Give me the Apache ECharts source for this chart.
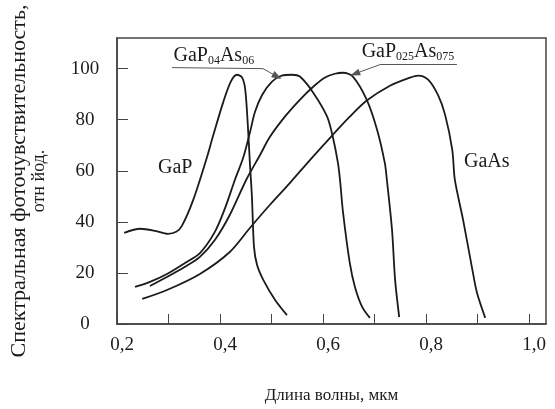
<!DOCTYPE html>
<html>
<head>
<meta charset="utf-8">
<script src="https://cdn.jsdelivr.net/npm/echarts@6/dist/echarts.min.js"></script>
<style>
  html, body { margin: 0; padding: 0; background: #fff; }
  #chart { width: 555px; height: 409px; }
</style>
</head>
<body>
<div id="chart"></div>
<script>
// [длина волны, мкм ; фоточувствительность, отн. ед.]
const gaP = [
  [0.214, 35.7], [0.245, 37.3], [0.274, 36.5], [0.299, 35.3], [0.315, 36.1],
  [0.326, 38.4], [0.348, 48.6], [0.375, 65.5], [0.386, 73.3], [0.406, 86.7],
  [0.421, 94.9], [0.433, 97.6], [0.443, 96.5], [0.449, 91.8], [0.454, 78],
  [0.458, 63.1], [0.462, 49.8], [0.466, 30.2], [0.472, 23.1], [0.484, 17.3],
  [0.507, 9.4], [0.530, 3.5]
];
const gaP04As06 = [
  [0.235, 14.5], [0.264, 16.5], [0.297, 19.6], [0.332, 23.9], [0.361, 27.8],
  [0.390, 36.1], [0.410, 45.5], [0.429, 56.5], [0.445, 65.1], [0.458, 74.9],
  [0.468, 83.1], [0.482, 89.8], [0.501, 94.9], [0.520, 97.3], [0.540, 97.6],
  [0.555, 96.9], [0.581, 90.6], [0.608, 81.2], [0.619, 73.3], [0.629, 63.1],
  [0.633, 56.5], [0.639, 43.5], [0.652, 23.9], [0.662, 14.5], [0.676, 6.7],
  [0.691, 2.4]
];
const gaP025As075 = [
  [0.264, 14.9], [0.297, 18.4], [0.332, 22.4], [0.361, 26.3], [0.390, 32.9],
  [0.419, 42.7], [0.451, 56.5], [0.478, 66.3], [0.497, 73.3], [0.526, 81.2],
  [0.555, 87.8], [0.581, 92.9], [0.604, 96.5], [0.623, 98.0], [0.639, 98.4],
  [0.658, 96.9], [0.685, 87.8], [0.705, 76.1], [0.720, 63.1], [0.724, 56.5],
  [0.734, 36.9], [0.740, 17.3], [0.748, 2.7]
];
const gaAs = [
  [0.249, 9.8], [0.297, 13.3], [0.361, 19.6], [0.419, 28.2], [0.458, 37.6],
  [0.497, 46.7], [0.536, 55.3], [0.575, 64.3], [0.619, 74.1], [0.652, 81.2],
  [0.685, 87.5], [0.730, 93.3], [0.769, 96.5], [0.785, 97.3], [0.804, 95.7],
  [0.823, 89.8], [0.837, 82], [0.851, 68.2], [0.856, 56.5], [0.872, 40.8],
  [0.889, 22.4], [0.899, 12.2], [0.915, 2.4]
];

// подписи кривых и выноски (в координатах осей)
const curveLabels = [
  { text: '{m|GaP}', coord: [0.313, 61.2] },
  { text: '{m|GaAs}', coord: [0.918, 63.5] },
  { text: '{m|GaP}{s|04}{m|As}{s|06}', coord: [0.388, 105.1] },
  { text: '{m|GaP}{s|025}{m|As}{s|075}', coord: [0.765, 106.7] }
];
const leaderLines = [
  [[0.307, 100.4], [0.4835, 100.0]],
  [[0.711, 101.6], [0.860, 101.6]]
];
const leaderArrows = [
  [[0.4835, 100.0], [0.511, 96.9]],
  [[0.711, 101.6], [0.662, 98.0]]
];

const ink = '#1b1b1b';
const serif = 'Liberation Serif';

const myChart = echarts.init(document.getElementById('chart'));

function curve(name, data) {
  return {
    name: name,
    type: 'line',
    data: data,
    smooth: 0.3,
    symbol: 'none',
    lineStyle: { color: ink, width: 1.8 },
    z: 3
  };
}

const series = [
  curve('GaP', gaP),
  curve('GaP0.4As0.6', gaP04As06),
  curve('GaP0.25As0.75', gaP025As075),
  curve('GaAs', gaAs)
];

series[3].markPoint = {
  symbol: 'circle',
  symbolSize: 1,
  silent: true,
  itemStyle: { color: 'rgba(0,0,0,0)' },
  label: {
    show: true,
    position: 'inside',
    formatter: (p) => p.name,
    rich: {
      m: { fontFamily: serif, fontSize: 20, color: ink },
      s: { fontFamily: serif, fontSize: 12, color: ink, padding: [10, 0, 0, 0] }
    }
  },
  data: curveLabels.map((l) => ({ name: l.text, coord: l.coord }))
};
series[3].markLine = {
  silent: true,
  animation: false,
  symbol: ['none', 'none'],
  label: { show: false },
  lineStyle: { color: '#555', width: 1, type: 'solid' },
  data: leaderLines.map((l) => [{ coord: l[0] }, { coord: l[1] }])
    .concat(leaderArrows.map((l) => [
      { coord: l[0], symbol: 'none' },
      { coord: l[1], symbol: 'triangle', symbolSize: [7, 10] }
    ]))
};

const option = {
  animation: false,
  grid: {
    left: 117, right: 9, top: 38, bottom: 85,
    outerBoundsMode: 'none',
    containLabel: false,
    show: true, borderColor: '#444', borderWidth: 1.5
  },
  xAxis: {
    type: 'value',
    min: 0.2,
    max: 1.033,
    interval: 0.1,
    name: 'Длина волны, мкм',
    nameLocation: 'middle',
    nameGap: 63,
    nameTextStyle: { fontFamily: serif, fontSize: 17, color: ink },
    axisLine: { lineStyle: { color: '#444', width: 1.5 } },
    axisTick: { inside: true, length: 10, lineStyle: { color: '#444', width: 1 } },
    splitLine: { show: false },
    axisLabel: {
      margin: 12,
      padding: [0, 0, 0, 10],
      showMaxLabel: false,
      fontFamily: serif, fontSize: 19, color: ink,
      formatter: (v) => {
        const k = Math.round(v * 10);
        if (Math.abs(v * 10 - k) > 1e-6 || k % 2) return '';
        return v.toFixed(1).replace('.', ',');
      }
    }
  },
  yAxis: {
    type: 'value',
    min: 0,
    max: 112,
    interval: 20,
    name: '{a|Спектральная фоточувствительность,}\n{b|отн йод.}',
    nameLocation: 'middle',
    nameGap: 68,
    nameTextStyle: {
      color: ink,
      rich: {
        a: { fontFamily: serif, fontSize: 22, color: ink, lineHeight: 20 },
        b: { fontFamily: serif, fontSize: 18, color: ink, lineHeight: 20 }
      }
    },
    axisLine: { show: true, lineStyle: { color: '#444', width: 1.5 } },
    axisTick: { show: true, inside: true, length: 11, lineStyle: { color: '#444', width: 1 } },
    splitLine: { show: false },
    axisLabel: {
      showMaxLabel: false,
      align: 'center',
      margin: 32,
      padding: [0, 0, 5, 0],
      fontFamily: serif, fontSize: 19, color: ink
    }
  },
  series: series
};

myChart.setOption(option);
</script>
</body>
</html>
